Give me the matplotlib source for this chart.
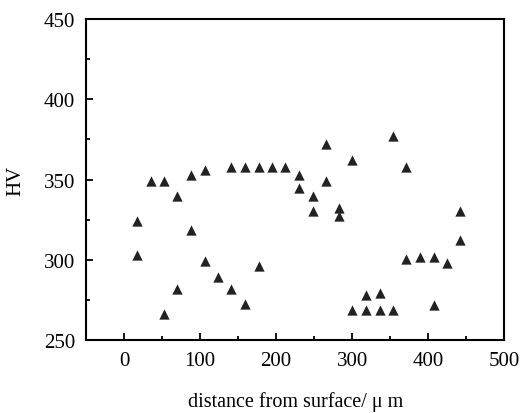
import matplotlib
matplotlib.use('Agg')
import matplotlib.pyplot as plt
from matplotlib.ticker import MultipleLocator

# Microhardness measurements (HV) vs distance from surface
distance = [17, 17, 35, 52, 52, 70, 70, 88, 88, 106, 106, 124, 141, 141,
            159, 159, 177, 177, 194, 212, 230, 230, 248, 248, 265, 265,
            283, 283, 300, 300, 318, 318, 336, 336, 354, 354, 371, 371,
            389, 407, 407, 425, 442, 442]
hardness = [324, 303, 349, 349, 266, 340, 282, 353, 318.5, 356, 299.5, 289,
            358, 282, 358, 272.5, 358, 296, 358, 358, 353, 344.5, 340, 330.5,
            372, 349, 332, 327.5, 362, 269, 278, 269, 279, 269, 377, 269,
            357.5, 300.5, 301.5, 301.5, 272, 298, 330.5, 312.5]

plt.rcParams['font.family'] = ['Liberation Serif', 'DejaVu Serif']

fig = plt.figure(figsize=(5.32, 4.14), dpi=100)
ax = fig.add_axes([0.1617, 0.1763, 0.7863, 0.7754])

ax.scatter(distance, hardness, marker='^', s=55, color='#222222', linewidths=0)

ax.set_xlim(-50, 500)
ax.set_ylim(250, 450)
ax.xaxis.set_major_locator(MultipleLocator(100))
ax.xaxis.set_minor_locator(MultipleLocator(50))
ax.yaxis.set_major_locator(MultipleLocator(50))
ax.yaxis.set_minor_locator(MultipleLocator(25))

ax.tick_params(which='both', direction='in', top=False, right=False,
               width=1.3, labelsize=15)
ax.tick_params(which='major', length=5, pad=8)
ax.tick_params(which='minor', length=3)
for s in ax.spines.values():
    s.set_linewidth(1.5)

ax.set_xlabel('distance from surface/ μ m', fontsize=14.5, labelpad=15)
ax.set_ylabel('HV', fontsize=15, labelpad=13)

fig.savefig('out.png', dpi=100)
